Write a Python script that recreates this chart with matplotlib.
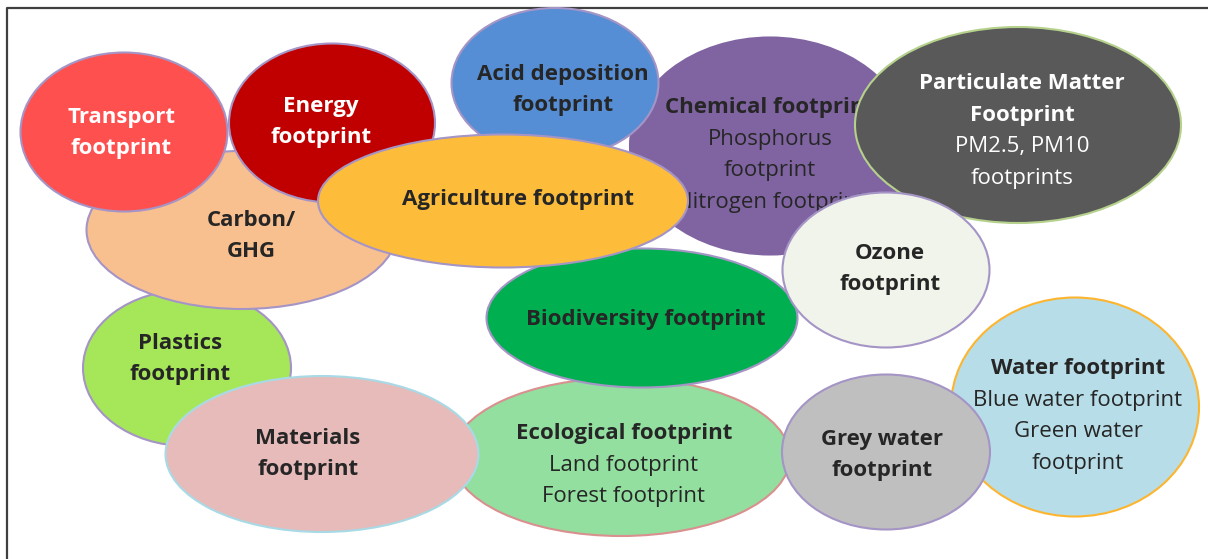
import matplotlib.pyplot as plt
from matplotlib.patches import Ellipse

plt.rcParams['font.family'] = ['Open Sans', 'DejaVu Sans']

# footprint bubbles, drawn in this order (later ones sit on top)
names = ['Plastics', 'Carbon', 'Transport', 'Energy', 'Chemical', 'Acid',
         'PM', 'Ecological', 'Biodiversity', 'Agriculture', 'Ozone',
         'Materials', 'Water', 'Grey']

# each label: list of (text, bold)
labels = [
    [('Plastics', True), ('footprint', True)],
    [('Carbon/', True), ('GHG', True)],
    [('Transport', True), ('footprint', True)],
    [('Energy', True), ('footprint', True)],
    [('Chemical footprint', True), ('Phosphorus', False), ('footprint', False),
     ('Nitrogen footprint', False)],
    [('Acid deposition', True), ('footprint', True)],
    [('Particulate Matter', True), ('Footprint', True), ('PM2.5, PM10', False),
     ('footprints', False)],
    [('Ecological footprint', True), ('Land footprint', False),
     ('Forest footprint', False)],
    [('Biodiversity footprint', True)],
    [('Agriculture footprint', True)],
    [('Ozone', True), ('footprint', True)],
    [('Materials', True), ('footprint', True)],
    [('Water footprint', True), ('Blue water footprint', False),
     ('Green water', False), ('footprint', False)],
    [('Grey water', True), ('footprint', True)],
]

# ellipse centre (px), width, height
cx = [187, 242, 124, 332, 770, 555, 1018, 621, 642, 503, 886, 322, 1075, 886]
cy = [368, 230, 132, 123, 146, 83, 125, 457, 318, 201, 270, 454, 407, 452]
ew = [208, 311, 207, 206, 280, 207, 326, 338, 311, 370, 207, 313, 248, 208]
eh = [156, 158, 159, 159, 217, 150, 196, 158, 139, 133, 155, 156, 219, 155]

# text centre (px)
tx = [180, 251, 121, 321, 770, 563, 1022, 624, 646, 518, 890, 308, 1078, 882]
ty = [359, 236, 133, 122, 155, 90, 131, 465, 320, 200, 269, 454, 416, 455]

fills = ['#A6E75A', '#F9C08F', '#FF5050', '#C00000', '#8064A2', '#558ED5',
         '#595959', '#92DFA0', '#00B050', '#FDBD3B', '#F0F4EA',
         '#E6BBBA', '#B7DEE8', '#BFBFBF']
edges = ['#A594C6', '#A594C6', '#A594C6', '#A594C6', '#8064A2', '#A594C6',
         '#B5D18C', '#D9908E', '#A594C6', '#A594C6', '#A594C6',
         '#A8DAE6', '#FDB530', '#A594C6']
tcolors = ['#262626', '#262626', 'white', 'white', '#262626', '#262626',
           'white', '#262626', '#262626', '#262626', '#262626',
           '#262626', '#262626', '#262626']

W, H = 1208, 559
fig = plt.figure(figsize=(W / 100, H / 100), dpi=100)
ax = fig.add_axes([0, 0, 1, 1])
ax.set_xlim(0, W)
ax.set_ylim(H, 0)
ax.axis('off')

# frame (top and left lines)
ax.plot([7, 7, W], [H, 7.5, 7.5], color='#404040', lw=1.6, zorder=0)

lh = 31.5
for i in range(len(names)):
    z = 2 + 2 * i
    ax.add_patch(Ellipse((cx[i], cy[i]), ew[i], eh[i], facecolor=fills[i],
                         edgecolor=edges[i], lw=1.5, zorder=z))
    n = len(labels[i])
    for k, (s, b) in enumerate(labels[i]):
        y = ty[i] + (k - (n - 1) / 2) * lh
        ax.text(tx[i], y, s, ha='center', va='center', fontsize=16,
                fontweight='bold' if b else 'normal', color=tcolors[i],
                zorder=z + 1)

fig.savefig('out.png', dpi=100)
